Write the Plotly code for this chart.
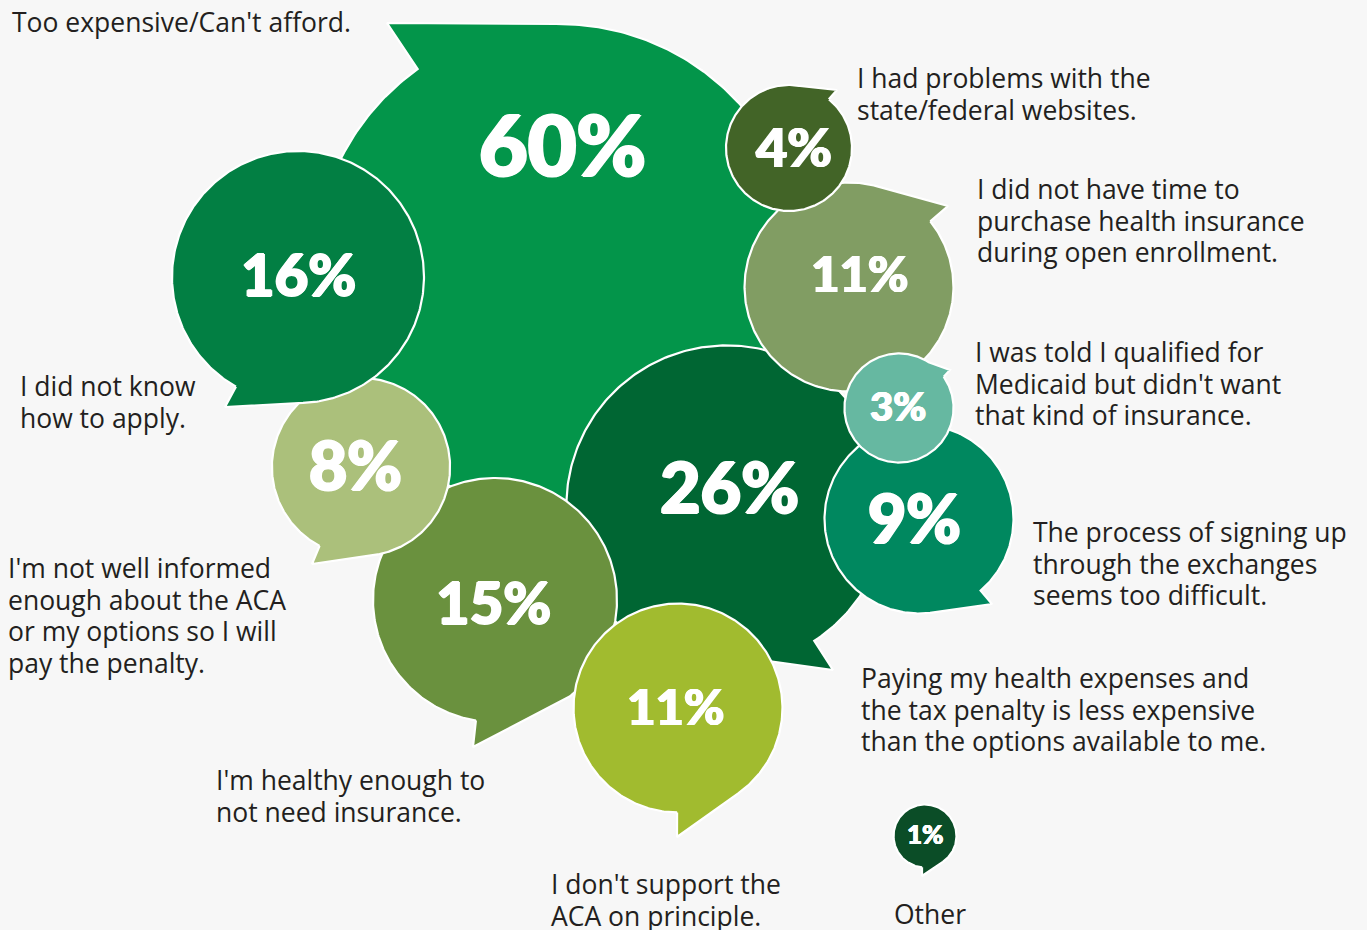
import numpy as np
import plotly.graph_objects as go

# Survey: reasons for not buying health insurance (share of respondents, %)
reasons = [
    "Too expensive/Can't afford.",
    "Paying my health expenses and<br>the tax penalty is less expensive<br>than the options available to me.",
    "I'm healthy enough to<br>not need insurance.",
    "I'm not well informed<br>enough about the ACA<br>or my options so I will<br>pay the penalty.",
    "I did not know<br>how to apply.",
    "I don't support the<br>ACA on principle.",
    "I did not have time to<br>purchase health insurance<br>during open enrollment.",
    "I had problems with the<br>state/federal websites.",
    "The process of signing up<br>through the exchanges<br>seems too difficult.",
    "I was told I qualified for<br>Medicaid but didn't want<br>that kind of insurance.",
    "Other",
]
shares = [60, 26, 15, 8, 16, 11, 11, 4, 9, 3, 1]

# Bubble fill colours, same order as above
colors = ["#03954A", "#006633", "#6A913E", "#ABC07B", "#027F43", "#A1BB2F",
          "#819D63", "#426427", "#00885F", "#66B8A1", "#0B4D27"]

# Layout (pixel space): bubble centres, speech-tail tips and tail base angles
centers = [(559, 268), (727, 506), (495, 600), (361, 467), (298, 277), (678, 708),
           (849, 287), (789, 148), (919, 519), (899, 408), (925, 836)]
tail_tips = [(387, 23), (833, 670), (473, 747), (312, 564), (225, 407), (677, 837),
             (948, 206), (837, 90), (992, 604), (950, 370), (922, 876)]
tail_angles = [(-125.4, -90.7), (57.1, 75.0), (99.0, 52.3), (117.7, 78.0), (119.5, 87.7),
               (90.5, 54.8), (-72.6, -38.9), (-80.0, -50.8), (49.3, 83.3), (-57.0, -34.9),
               (95.4, 58.0)]
value_pos = [(562, 143), (729, 486), (493, 601), (355, 464), (298, 273), (675, 706),
             (859, 273), (794, 146), (914, 517), (898, 406), (925, 834)]
value_size = [84, 70, 58, 66, 58, 49, 49, 54, 66, 40, 26]
# left edge and first-line centre of each reason text block
label_pos = [(10, 22), (859, 678), (214, 780), (6, 568), (18, 386), (549, 884),
             (975, 189), (855, 78), (1031, 532), (973, 352), (892, 914)]
LINE_STEP = 31.7
TEXT_SIZE = 26.5

RADIUS_SCALE = 31.5  # px per sqrt(percent): bubble area follows the share


def heavy_shadow(size):
    """Faux extra-bold: thicken the white glyphs with a tight text-shadow."""
    o = round(size * 0.018, 2)
    h = round(o * 0.5, 2)
    return (f"{o}px 0 0 white, -{o}px 0 0 white, 0 {h}px 0 white, "
            f"0 -{h}px 0 white")


fig = go.Figure()
for i, v in enumerate(shares):
    cx, cy = centers[i]
    r = RADIUS_SCALE * np.sqrt(v)
    a1, a2 = tail_angles[i]
    # the gap between the two base angles is the short arc; draw the long way round
    d = (a2 - a1) % 360
    if d > 180:
        a1, a2 = a2, a1
        d = 360 - d
    th = np.radians(np.linspace(a1 + d, a1 + 360, 360))
    xs = list(cx + r * np.cos(th)) + [tail_tips[i][0], cx + r * np.cos(th[0])]
    ys = list(cy + r * np.sin(th)) + [tail_tips[i][1], cy + r * np.sin(th[0])]
    fig.add_trace(go.Scatter(
        x=xs, y=ys, mode="lines", fill="toself", fillcolor=colors[i],
        line=dict(color="white", width=2.2), hoverinfo="skip", showlegend=False,
    ))

for i, v in enumerate(shares):
    fig.add_annotation(
        x=value_pos[i][0], y=value_pos[i][1], text=f"{v}%", showarrow=False,
        xanchor="center", yanchor="middle",
        font=dict(family="Lato Black, Lato Heavy, Lato", size=value_size[i],
                  color="white", weight=900, shadow=heavy_shadow(value_size[i])),
    )
    for j, line in enumerate(reasons[i].split("<br>")):
        fig.add_annotation(
            x=label_pos[i][0], y=label_pos[i][1] + j * LINE_STEP, text=line,
            showarrow=False, xanchor="left", yanchor="middle", align="left",
            font=dict(family="Open Sans", size=TEXT_SIZE, color="#231F20"),
        )

fig.update_layout(
    width=1367, height=930, margin=dict(l=0, r=0, t=0, b=0),
    paper_bgcolor="#F7F7F7", plot_bgcolor="#F7F7F7",
    xaxis=dict(range=[0, 1367], visible=False, fixedrange=True),
    yaxis=dict(range=[930, 0], visible=False, fixedrange=True),
    hovermode=False,
)
fig.write_html("out.html", config={"displayModeBar": False})
